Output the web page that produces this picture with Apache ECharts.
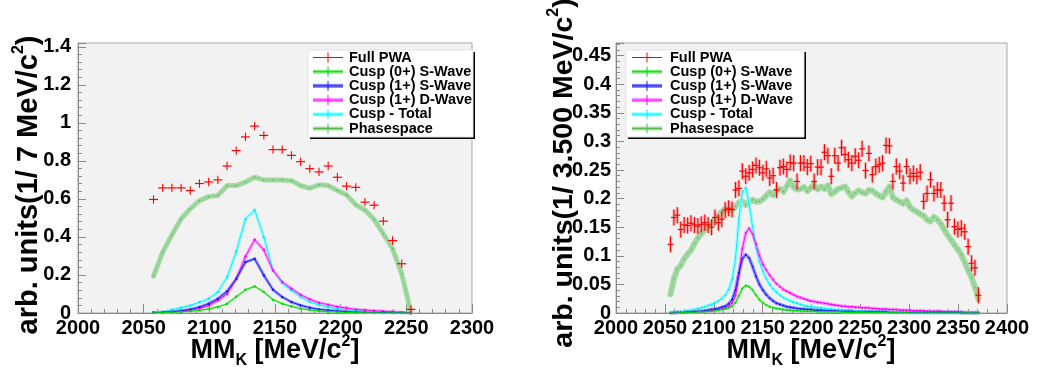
<!DOCTYPE html>
<html><head><meta charset="utf-8">
<script src="https://cdn.jsdelivr.net/npm/echarts@6/dist/echarts.min.js"></script>
<style>html,body{margin:0;padding:0;background:#fff}#c{width:1054px;height:372px}</style>
</head><body><div id="c"></div>
<script>
// ---------- DATA ----------
const leftBins = [2057.5,2064.5,2071.5,2078.5,2085.5,2092.5,2099.5,2106.5,2113.5,2120.5,2127.5,2134.5,2141.5,2148.5,2155.5,2162.5,2169.5,2176.5,2183.5,2190.5,2197.5,2204.5,2211.5,2218.5,2225.5,2232.5,2239.5,2246.5,2253.5];
const leftPWA = [0.597,0.658,0.658,0.658,0.644,0.681,0.689,0.700,0.773,0.854,0.926,0.983,0.934,0.859,0.859,0.829,0.796,0.759,0.742,0.773,0.714,0.667,0.661,0.583,0.567,0.483,0.381,0.259,0.019];
const leftPWAErr = 0.022;
const leftPhase = [0.194,0.320,0.411,0.495,0.548,0.591,0.612,0.618,0.670,0.670,0.688,0.714,0.700,0.700,0.700,0.696,0.670,0.656,0.674,0.670,0.644,0.621,0.569,0.542,0.492,0.416,0.338,0.206,0.003];
const leftTotal = [0.002,0.005,0.017,0.028,0.040,0.056,0.075,0.110,0.189,0.324,0.495,0.542,0.399,0.224,0.157,0.119,0.084,0.058,0.042,0.031,0.023,0.017,0.012,0.009,0.006,0.004,0.003,0.002,0.000];
const leftD1 = [0.001,0.003,0.005,0.009,0.014,0.024,0.040,0.066,0.100,0.180,0.297,0.385,0.332,0.224,0.163,0.128,0.096,0.072,0.054,0.044,0.033,0.026,0.019,0.016,0.012,0.009,0.006,0.003,0.000];
const leftS1 = [0.002,0.004,0.007,0.012,0.019,0.031,0.049,0.075,0.114,0.180,0.268,0.285,0.198,0.122,0.084,0.058,0.040,0.028,0.019,0.014,0.010,0.007,0.005,0.004,0.003,0.002,0.001,0.001,0.000];
const leftS0 = [0.001,0.002,0.004,0.006,0.009,0.014,0.021,0.032,0.048,0.086,0.122,0.140,0.110,0.070,0.049,0.035,0.023,0.016,0.010,0.007,0.005,0.003,0.002,0.001,0.001,0.000,0.000,0.000,0.000];

const rightBins = [2055.75,2059.25,2062.75,2066.25,2069.75,2073.25,2076.75,2080.25,2083.75,2087.25,
2090.75,2094.25,2097.75,2101.25,2104.75,2108.25,2111.75,2115.25,2118.75,2122.25,
2125.75,2129.25,2132.75,2136.25,2139.75,2143.25,2146.75,2150.25,2153.75,2157.25,
2160.75,2164.25,2167.75,2171.25,2174.75,2178.25,2181.75,2185.25,2188.75,2192.25,
2195.75,2199.25,2202.75,2206.25,2209.75,2213.25,2216.75,2220.25,2223.75,2227.25,
2230.75,2234.25,2237.75,2241.25,2244.75,2248.25,2251.75,2255.25,2258.75,2262.25,
2265.75,2269.25,2272.75,2276.25,2279.75,2283.25,2286.75,2290.25,2293.75,2297.25,
2300.75,2304.25,2307.75,2311.25,2314.75,2318.25,2321.75,2325.25,2328.75,2332.25,
2335.75,2339.25,2342.75,2346.25,2349.75,2353.25,2356.75,2360.25,2363.75,2367.25,2370.75];
const rightPWA = [0.120,0.167,0.171,0.146,0.154,0.153,0.157,0.154,0.152,0.155,
0.158,0.154,0.150,0.167,0.158,0.164,0.180,0.183,0.181,0.215,
0.218,0.248,0.239,0.245,0.251,0.258,0.254,0.245,0.252,0.236,
0.240,0.215,0.254,0.256,0.251,0.263,0.262,0.230,0.262,0.262,
0.255,0.261,0.230,0.255,0.255,0.281,0.275,0.239,0.275,0.262,
0.289,0.277,0.268,0.262,0.274,0.267,0.287,0.249,0.279,0.242,
0.256,0.259,0.262,0.293,0.292,0.230,0.256,0.248,0.227,0.256,
0.239,0.244,0.239,0.246,0.195,0.209,0.233,0.209,0.215,0.215,
0.192,0.163,0.192,0.151,0.146,0.148,0.142,0.116,0.087,0.079,0.031];
const rightPWAErr = 0.014;
const rightPhase = [0.033,0.060,0.077,0.083,0.095,0.103,0.110,0.121,0.131,0.139,
0.146,0.151,0.156,0.163,0.170,0.177,0.182,0.180,0.180,0.186,
0.193,0.195,0.189,0.194,0.198,0.195,0.195,0.199,0.205,0.211,
0.206,0.215,0.217,0.212,0.222,0.232,0.220,0.216,0.217,0.220,
0.213,0.219,0.224,0.216,0.221,0.217,0.223,0.208,0.212,0.217,
0.219,0.221,0.212,0.204,0.210,0.214,0.211,0.209,0.215,0.214,
0.209,0.205,0.202,0.212,0.221,0.202,0.198,0.195,0.191,0.197,
0.185,0.180,0.177,0.173,0.170,0.163,0.160,0.168,0.163,0.156,
0.146,0.136,0.128,0.119,0.111,0.102,0.089,0.075,0.062,0.045,0.025];
const rightTotal = [0.001,0.001,0.002,0.002,0.003,0.004,0.005,0.006,0.008,0.009,
0.011,0.013,0.015,0.018,0.021,0.025,0.031,0.041,0.058,0.095,
0.165,0.212,0.219,0.190,0.150,0.115,0.090,0.073,0.060,0.050,
0.042,0.036,0.031,0.027,0.024,0.021,0.019,0.017,0.015,0.013,
0.012,0.011,0.010,0.009,0.009,0.008,0.007,0.007,0.006,0.006,
0.005,0.005,0.005,0.004,0.004,0.004,0.004,0.003,0.003,0.003,
0.003,0.003,0.002,0.002,0.002,0.002,0.002,0.002,0.002,0.002,
0.001,0.001,0.001,0.001,0.001,0.001,0.001,0.001,0.001,0.001,
0.001,0.001,0.001,0.001,0.001,0.001,0.001,0.001,0.001,0.001,0.001];
const rightD1 = [0.000,0.000,0.001,0.001,0.001,0.001,0.001,0.002,0.002,0.002,
0.003,0.003,0.004,0.005,0.006,0.007,0.009,0.012,0.017,0.030,
0.068,0.112,0.140,0.148,0.138,0.120,0.100,0.085,0.075,0.066,
0.058,0.051,0.046,0.041,0.038,0.035,0.032,0.029,0.027,0.025,
0.023,0.021,0.020,0.019,0.018,0.017,0.016,0.015,0.014,0.013,
0.012,0.012,0.011,0.011,0.010,0.010,0.009,0.009,0.009,0.008,
0.008,0.007,0.007,0.007,0.006,0.006,0.006,0.005,0.005,0.005,
0.005,0.004,0.004,0.004,0.004,0.003,0.003,0.003,0.003,0.003,
0.002,0.002,0.002,0.002,0.002,0.002,0.001,0.001,0.001,0.001,0.001];
const rightS1 = [0.000,0.001,0.001,0.001,0.001,0.002,0.002,0.002,0.003,0.003,
0.004,0.005,0.006,0.007,0.008,0.010,0.012,0.016,0.023,0.040,
0.070,0.095,0.102,0.096,0.081,0.064,0.050,0.040,0.032,0.026,
0.021,0.017,0.015,0.013,0.011,0.010,0.009,0.008,0.007,0.007,
0.006,0.006,0.005,0.005,0.005,0.004,0.004,0.004,0.004,0.003,
0.003,0.003,0.003,0.003,0.002,0.002,0.002,0.002,0.002,0.002,
0.002,0.002,0.002,0.002,0.001,0.001,0.001,0.001,0.001,0.001,
0.001,0.001,0.001,0.001,0.001,0.001,0.001,0.001,0.001,0.001,
0.001,0.001,0.001,0.001,0.001,0.000,0.000,0.000,0.000,0.000,0.000];
const rightS0 = [0.000,0.000,0.000,0.001,0.001,0.001,0.001,0.001,0.002,0.002,
0.002,0.003,0.003,0.004,0.005,0.006,0.007,0.009,0.012,0.018,
0.030,0.043,0.048,0.046,0.040,0.031,0.023,0.018,0.014,0.011,
0.009,0.008,0.007,0.006,0.005,0.005,0.004,0.004,0.004,0.003,
0.003,0.003,0.003,0.002,0.002,0.002,0.002,0.002,0.002,0.002,
0.002,0.001,0.001,0.001,0.001,0.001,0.001,0.001,0.001,0.001,
0.001,0.001,0.001,0.001,0.001,0.001,0.001,0.001,0.001,0.001,
0.000,0.000,0.000,0.000,0.000,0.000,0.000,0.000,0.000,0.000,
0.000,0.000,0.000,0.000,0.000,0.000,0.000,0.000,0.000,0.000,0.000];

const legendNames = ['Full PWA','Cusp (0+) S-Wave','Cusp (1+) S-Wave','Cusp (1+) D-Wave','Cusp - Total','Phasespace'];
const leftXTicks = {min:2000, max:2300, step:50};
const rightXTicks = {min:2000, max:2400, step:50};
const leftYTicks = {min:0, max:1.42, step:0.2};
const rightYTicks = {min:0, max:0.472, step:0.05};
const leftYTitle = ['arb. units(1/ 7 MeV/c','2',')'];
const rightYTitle = ['arb. units(1/ 3.500 MeV/c','2',')'];

// ---------- STYLE ----------
const FONT = '"Liberation Sans", Arial, Helvetica, sans-serif';
const C = {
  pwa:'#ff0000',
  s0:'#00dd00', s0b:'#80ee80',
  s1:'#1a1aff', s1b:'#8080ff',
  d1:'#ff00ff', d1b:'#ff90ff',
  tot:'#00f0ff', totb:'#90ffff',
  ph:'#7cc47c', phb:'#a2d9a2'
};
const AX = '#8a8a8a';

function pairs(xs, ys){ return xs.map((x,i)=>[x, ys[i]]); }

function band(idx, xs, ys, color, width, opacity, z){
  return {type:'line', xAxisIndex:idx, yAxisIndex:idx, data:pairs(xs,ys), symbol:'none', silent:true,
    lineStyle:{color, width, opacity, join:'round', cap:'round'}, z, animation:false};
}
function thin(idx, xs, ys, color, width, dot, z, dotColor){
  return {type:'line', xAxisIndex:idx, yAxisIndex:idx, data:pairs(xs,ys), symbol:'circle', symbolSize:dot,
    showSymbol:true, showAllSymbol:true, silent:true, itemStyle:{color:dotColor||color}, lineStyle:{color, width}, z, animation:false};
}
function pwa(idx, xs, ys, err, halfPx, box){
  return {type:'custom', xAxisIndex:idx, yAxisIndex:idx, data:pairs(xs,ys), z:20, silent:true, clip:true, animation:false,
    renderItem(params, api){
      const x = api.value(0), y = api.value(1);
      const c = api.coord([x, y]);
      const t = api.coord([x, y + err]);
      const b = api.coord([x, Math.max(0, y - err)]);
      const ch = [];
      if (box) ch.push({type:'rect', shape:{x:c[0]-1.6, y:t[1], width:3.2, height:b[1]-t[1]}, style:{fill:'rgba(240,90,90,0.38)'}});
      ch.push({type:'line', shape:{x1:c[0]-halfPx, y1:c[1], x2:c[0]+halfPx, y2:c[1]}, style:{stroke:C.pwa, lineWidth:1.2}});
      ch.push({type:'line', shape:{x1:c[0], y1:t[1], x2:c[0], y2:b[1]}, style:{stroke:C.pwa, lineWidth:1.1}});
      return {type:'group', children:ch};
    }};
}

function xAxisCfg(idx, t){
  return {type:'value', gridIndex:idx, min:t.min, max:t.max, interval:t.step,
    axisLine:{show:true, onZero:false, lineStyle:{color:AX, width:1}},
    axisTick:{show:true, inside:true, length:9, lineStyle:{color:AX}},
    minorTick:{show:true, splitNumber:5, length:4, lineStyle:{color:AX}},
    splitLine:{show:false},
    axisLabel:{color:'#000', fontFamily:FONT, fontWeight:'bold', fontSize:20, margin:5, showMinLabel:true, showMaxLabel:true,
      formatter:v=>String(Math.round(v))}};
}
function yAxisCfg(idx, t, margin){
  return {type:'value', gridIndex:idx, min:t.min, max:t.max, interval:t.step,
    axisLine:{show:true, lineStyle:{color:AX, width:1}},
    axisTick:{show:true, inside:true, length:8, lineStyle:{color:AX}},
    minorTick:{show:true, splitNumber:5, length:4, lineStyle:{color:AX}},
    splitLine:{show:false},
    axisLabel:{color:'#000', fontFamily:FONT, fontWeight:'bold', fontSize:20, margin,
      formatter:v=>{const k=v/t.step; return Math.abs(k-Math.round(k))<1e-6 ? String(Math.round(v*100)/100) : '';}}};
}

const legendRich = {t:{fontFamily:FONT, fontWeight:'bold', fontSize:14.5, lineHeight:16, fill:'#000'}};

function legend(x0, y0, w, h, sx1, sx2, tx, rowY, step){
  const g = [];
  g.push({type:'rect', z:100, shape:{x:x0+2, y:y0+2, width:w, height:h}, style:{fill:'#000'}});
  g.push({type:'rect', z:101, shape:{x:x0, y:y0, width:w, height:h}, style:{fill:'#fff', stroke:'#e4e4e4', lineWidth:1}});
  const cols = [[C.pwa,null],[C.s0,C.s0b],[C.s1,C.s1b],[C.d1,C.d1b],[C.tot,C.totb],['#55b855',C.phb]];
  legendNames.forEach((n,i)=>{
    const y = rowY + step*i;
    const [col, bcol] = cols[i];
    if (bcol) g.push({type:'line', z:102, shape:{x1:sx1,y1:y,x2:sx2,y2:y}, style:{stroke:bcol, lineWidth:4}});
    g.push({type:'line', z:103, shape:{x1:sx1,y1:y,x2:sx2,y2:y}, style:{stroke:col, lineWidth:1}});
    g.push({type:'line', z:103, shape:{x1:(sx1+sx2)/2,y1:y-5,x2:(sx1+sx2)/2,y2:y+5}, style:{stroke:col, lineWidth:1}});
    g.push({type:'text', z:104, x:tx, y:y, style:{text:'{t|'+n+'}', rich:legendRich, align:'left', verticalAlign:'middle'}});
  });
  return g;
}

function titleRich(size){
  return {
    a:{fontFamily:FONT, fontWeight:'bold', fontSize:size, lineHeight:size+8, fill:'#000'},
    k:{fontFamily:FONT, fontWeight:'bold', fontSize:16, lineHeight:16, verticalAlign:'bottom', fill:'#000'},
    p:{fontFamily:FONT, fontWeight:'bold', fontSize:16, lineHeight:16, verticalAlign:'top', fill:'#000'}
  };
}
function xTitle(cx, cy){
  return {type:'text', z:110, x:cx, y:cy, style:{text:'{a|MM}{k|K}{a| [MeV/c}{p|2}{a|]}', rich:titleRich(27),
    align:'center', verticalAlign:'middle'}};
}
function yTitle(cx, cy, parts, size){
  return {type:'text', z:110, x:cx, y:cy, rotation:Math.PI/2, style:{text:'{a|'+parts[0]+'}{p|'+parts[1]+'}{a|'+parts[2]+'}', rich:titleRich(size),
    align:'center', verticalAlign:'middle'}};
}

const chart = echarts.init(document.getElementById('c'), null, {renderer:'canvas', width:1054, height:372});
chart.setOption({
  animation:false,
  backgroundColor:'#ffffff',
  grid:[
    {left:78, top:43, width:394, height:270, show:true, backgroundColor:'#f2f2f2', borderColor:'#a8a8a8', borderWidth:1},
    {left:616, top:43, width:391, height:270, show:true, backgroundColor:'#f2f2f2', borderColor:'#a8a8a8', borderWidth:1}
  ],
  xAxis:[xAxisCfg(0, leftXTicks), xAxisCfg(1, rightXTicks)],
  yAxis:[yAxisCfg(0, leftYTicks, 7), yAxisCfg(1, rightYTicks, 5)],
  series:[
    band(0, leftBins, leftPhase, C.phb, 5, 1, 2),
    thin(0, leftBins, leftPhase, C.ph, 0.5, 1.6, 3, '#5fae5f'),
    band(0, leftBins, leftTotal, C.totb, 3, 0.8, 4),
    band(0, leftBins, leftD1, C.d1b, 3, 0.8, 4),
    band(0, leftBins, leftS1, C.s1b, 3, 0.8, 4),
    band(0, leftBins, leftS0, C.s0b, 2, 0.8, 4),
    thin(0, leftBins, leftTotal, C.tot, 1, 2.5, 5),
    thin(0, leftBins, leftD1, C.d1, 1, 2.5, 5),
    thin(0, leftBins, leftS1, C.s1, 1, 2.5, 5),
    thin(0, leftBins, leftS0, C.s0, 1, 2.5, 5),
    pwa(0, leftBins, leftPWA, leftPWAErr, 4.5, false),

    band(1, rightBins, rightPhase, C.phb, 6, 1, 2),
    thin(1, rightBins, rightPhase, C.ph, 0.5, 1.4, 3, '#5fae5f'),
    band(1, rightBins, rightTotal, C.totb, 3.5, 0.8, 4),
    band(1, rightBins, rightD1, C.d1b, 3.5, 0.8, 4),
    band(1, rightBins, rightS1, C.s1b, 3.5, 0.8, 4),
    band(1, rightBins, rightS0, C.s0b, 2.5, 0.8, 4),
    thin(1, rightBins, rightTotal, C.tot, 1, 2, 5),
    thin(1, rightBins, rightD1, C.d1, 1, 2, 5),
    thin(1, rightBins, rightS1, C.s1, 1, 2, 5),
    thin(1, rightBins, rightS0, C.s0, 1, 2, 5),
    pwa(1, rightBins, rightPWA, rightPWAErr, 3, true)
  ],
  graphic:[
    ...legend(308, 50, 165, 87, 313, 343, 349, 57.5, 14.2),
    ...legend(626, 50, 178, 87, 632, 662, 670, 57.5, 14.2),
    xTitle(275, 351),
    xTitle(811, 351),
    yTitle(29, 185, leftYTitle, 29),
    yTitle(564, 173, rightYTitle, 28.5)
  ]
});
</script>
</body></html>
